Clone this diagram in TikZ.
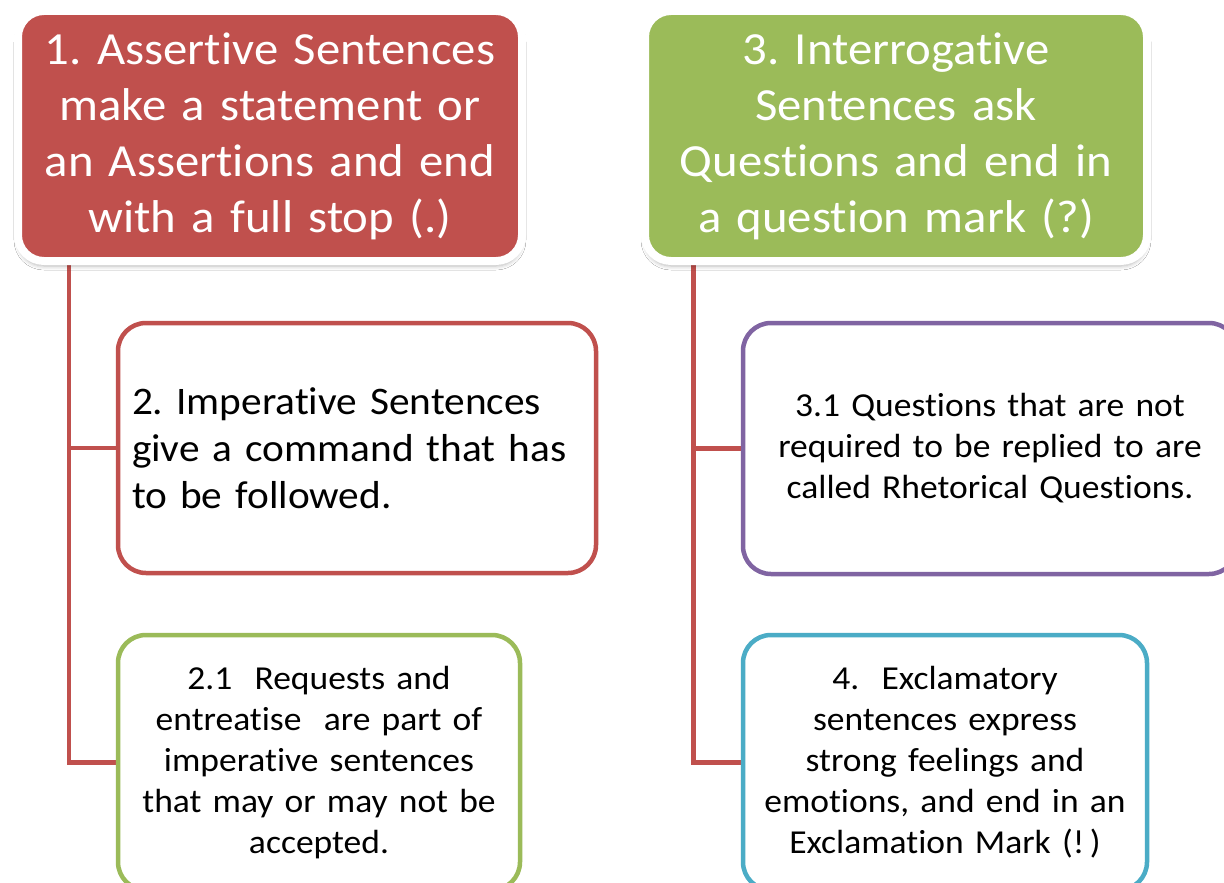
\documentclass[tikz,border=0pt]{standalone}
\usepackage{fontspec}
\setmainfont{Carlito}[Ligatures=NoCommon, FakeStretch=1.06]
\frenchspacing
\usetikzlibrary{shadows.blur,backgrounds}
\definecolor{offred}{HTML}{C0504D}
\definecolor{offgreen}{HTML}{9BBB59}
\definecolor{offpurple}{HTML}{8064A2}
\definecolor{offblue}{HTML}{4BACC6}
\tikzset{
  headbox/.style={rectangle, rounded corners=26pt, draw=white, line width=8pt,
    inner sep=0pt, minimum height=250pt, text=white, align=center,
    font=\fontsize{46pt}{56pt}\selectfont,
    blur shadow={shadow xshift=0pt, shadow yshift=-5pt, shadow blur radius=4pt, shadow opacity=30}},
  subbox/.style={rectangle, rounded corners=28pt, fill=white, line width=4.5pt,
    inner sep=0pt, text=black, align=center,
    font=\fontsize{33.5pt}{41pt}\selectfont},
  link/.style={draw=offred, line width=4.5pt}
}
\begin{document}
\begin{tikzpicture}[x=1pt,y=-1pt]
\useasboundingbox (0,0) rectangle (1224,883);

% top-level category boxes
\node[headbox, fill=offred, minimum width=504pt, text width=490pt] (b1) at (270,136)
  {1. Assertive Sentences\\ make a statement or\\ an Assertions and end\\ with a full stop (.)};
\node[headbox, fill=offgreen, minimum width=502pt, text width=490pt] (b3) at (896,136)
  {3. Interrogative\\ Sentences ask\\ Questions and end in\\ a question mark (?)};

% child boxes
\node[subbox, draw=offred, minimum width=478pt, minimum height=250pt, text width=450pt,
  align=left, font=\fontsize{39pt}{47pt}\selectfont] (b2) at (357,448)
  {2. Imperative Sentences\\ give a command that has\\ to be followed.};
\node[subbox, draw=offgreen, minimum width=402pt, minimum height=255pt, text width=390pt] (b21) at (319,762.5)
  {2.1\ \ Requests and\\ entreatise\ \ are part of\\ imperative sentences\\ that may or may not be\\ accepted.};
\node[subbox, draw=offpurple, minimum width=494pt, minimum height=251pt, text width=480pt] (b31) at (990,448.5)
  {3.1 Questions that are not\\ required to be replied to are\\ called Rhetorical Questions.};
\node[subbox, draw=offblue, minimum width=404pt, minimum height=255pt, text width=390pt] (b4) at (945,762.5)
  {4.\ \ Exclamatory\\ sentences express\\ strong feelings and\\ emotions, and end in an\\ Exclamation Mark (!\,)};

% trunks hanging below the category boxes
\coordinate (tl) at (69,257);
\coordinate (tr) at (693.5,257);
\begin{pgfonlayer}{background}
  \fill[white] (0,0) rectangle (1224,883);
  \draw[link] (tl) |- (b2.west);
  \draw[link] (tl) |- (b21.west);
  \draw[link] (tr) |- (b31.west);
  \draw[link] (tr) |- (b4.west);
\end{pgfonlayer}
\end{tikzpicture}
\end{document}
